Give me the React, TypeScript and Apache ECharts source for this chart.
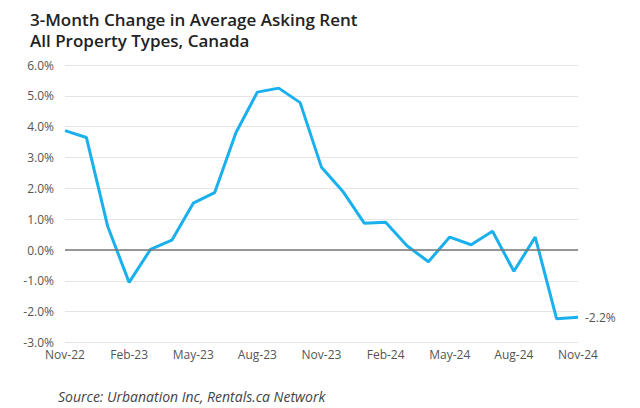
import React, { useEffect, useRef } from "react";
import * as echarts from "echarts";

const titleLines = ["3-Month Change in Average Asking Rent", "All Property Types, Canada"];
const sourceText = "Source: Urbanation Inc, Rentals.ca Network";
const months = [
  "Nov-22", "Dec-22", "Jan-23", "Feb-23", "Mar-23", "Apr-23", "May-23", "Jun-23", "Jul-23",
  "Aug-23", "Sep-23", "Oct-23", "Nov-23", "Dec-23", "Jan-24", "Feb-24", "Mar-24", "Apr-24",
  "May-24", "Jun-24", "Jul-24", "Aug-24", "Sep-24", "Oct-24", "Nov-24",
];
const rentChange = [
  3.87, 3.65, 0.76, -1.05, 0.02, 0.32, 1.52, 1.86, 3.81, 5.12, 5.25, 4.78, 2.68,
  1.9, 0.87, 0.9, 0.14, -0.38, 0.42, 0.17, 0.61, -0.69, 0.42, -2.23, -2.18,
];
const yMin = -3;
const yMax = 6;
const yStep = 1;

const FONT = "'Open Sans', 'Noto Sans', sans-serif";

export default function App() {
  const ref = useRef<HTMLDivElement>(null);
  useEffect(() => {
    if (!ref.current) return;
    const chart = echarts.init(ref.current, null, { renderer: "svg" });
    chart.setOption({
      animation: false,
      backgroundColor: "#ffffff",
      title: {
        text: titleLines.join("\n"),
        left: 25,
        top: 4,
        textStyle: { fontFamily: FONT, fontSize: 17, fontWeight: 600, lineHeight: 21, color: "#222222" },
      },
      graphic: [
        {
          type: "text",
          left: 58,
          top: 389,
          style: { text: sourceText, font: `italic 14px ${FONT}`, fill: "#444444" },
        },
      ],
      grid: { left: 65, right: 62, top: 65, bottom: 65.5, containLabel: false },
      xAxis: {
        type: "category",
        data: months,
        boundaryGap: false,
        axisLine: { show: false },
        axisTick: { show: false },
        axisLabel: { interval: 2, margin: 6, fontFamily: FONT, fontSize: 12, color: "#555555" },
        splitLine: { show: false },
      },
      yAxis: {
        type: "value",
        min: yMin,
        max: yMax,
        interval: yStep,
        axisLine: { show: false },
        axisTick: { show: false },
        axisLabel: {
          margin: 11,
          fontFamily: FONT,
          fontSize: 12,
          color: "#555555",
          formatter: (v: number) => v.toFixed(1) + "%",
        },
        splitLine: { lineStyle: { color: "#e4e4e4", width: 1 } },
      },
      series: [
        {
          type: "line",
          data: rentChange,
          symbol: "none",
          lineStyle: { color: "#1ab0ee", width: 3 },
          endLabel: {
            show: true,
            distance: 7,
            fontFamily: FONT,
            fontSize: 12,
            color: "#555555",
            formatter: (p: any) => p.value.toFixed(1) + "%",
          },
          markLine: {
            silent: true,
            symbol: "none",
            label: { show: false },
            lineStyle: { color: "#777777", width: 1.5, type: "solid" },
            data: [{ yAxis: 0 }],
          },
          z: 3,
        },
      ],
    });
    return () => chart.dispose();
  }, []);
  return <div ref={ref} style={{ width: 640, height: 408, position: "absolute", left: 0, top: 0 }} />;
}
